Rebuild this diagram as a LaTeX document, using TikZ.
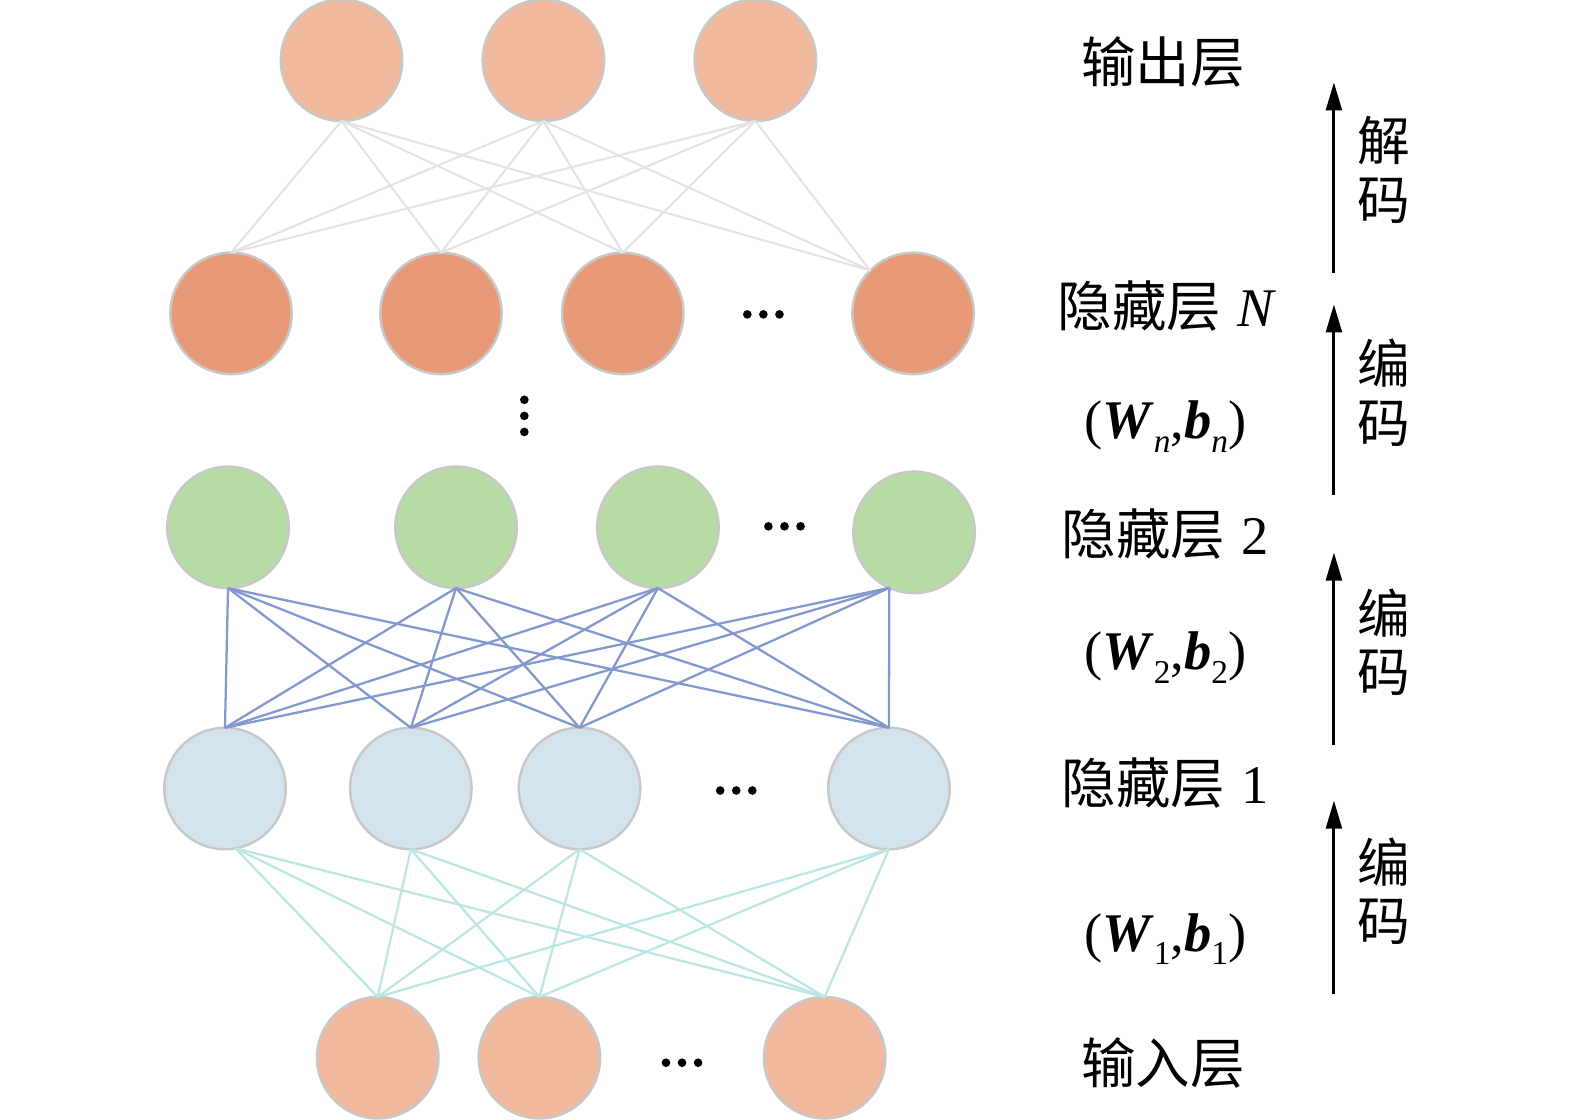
\documentclass[tikz,border=0pt]{standalone}
\usepackage{fontspec}
\setmainfont{Liberation Serif}
\newfontfamily\cjk{Noto Sans CJK SC}
\usetikzlibrary{arrows.meta}
\definecolor{ringc}{HTML}{C8C8C8}
\definecolor{peach}{HTML}{F0B89C}
\definecolor{salmon}{HTML}{E89A78}
\definecolor{leaf}{HTML}{B6DBA5}
\definecolor{sky}{HTML}{D3E4EF}
\definecolor{grayline}{HTML}{E3E3E3}
\definecolor{blueline}{HTML}{8298CF}
\definecolor{cyanline}{HTML}{BDE7E5}
\newcommand\lowsub[1]{\raisebox{-0.55ex}{\fontsize{19}{20}\selectfont #1}}
\begin{document}
\begin{tikzpicture}[x=0.02009cm,y=-0.02009cm,
  neuron/.style={circle,draw=ringc,line width=1.4pt,minimum size=2.43cm,inner sep=0pt,outer sep=0pt},
  lbl/.style={font=\fontsize{31}{36}\selectfont,inner sep=0pt},
  side/.style={font=\cjk\fontsize{30}{34}\selectfont,inner sep=0pt},
  flow/.style={line width=1.7pt,-{Triangle[length=16pt,width=9pt]}},
  dotmark/.style={fill=black}]
\useasboundingbox (0,0) rectangle (1568,1115);
% neurons
\foreach \n/\x in {o1/340,o2/541,o3/752} \node[neuron,fill=peach] (\n) at (\x,60) {};
\foreach \n/\x in {a1/230,a2/439,a3/620,a4/909} \node[neuron,fill=salmon] (\n) at (\x,312) {};
\foreach \n/\x/\y in {b1/227/525,b2/454/525,b3/655/525,b4/910/530} \node[neuron,fill=leaf] (\n) at (\x,\y) {};
\foreach \n/\x in {c1/224,c2/409,c3/577,c4/885} \node[neuron,fill=sky] (\n) at (\x,785) {};
\foreach \n/\x in {i1/376,i2/537,i3/821} \node[neuron,fill=peach] (\n) at (\x,1053) {};
% connections
\foreach \o in {o1,o2,o3}{
  \foreach \a in {a1,a2,a3} \draw[grayline,line width=1.2pt] (\o.south) -- (\a.north);
  \draw[grayline,line width=1.2pt] (\o.south) -- (a4.135);
}
\foreach \c in {c1,c2,c3,c4}{
  \foreach \b in {b1,b2,b3} \draw[blueline,line width=1.3pt] (\b.south) -- (\c.north);
  \draw[blueline,line width=1.3pt] (b4.-114) -- (\c.north);
}
\foreach \i in {i1,i2,i3}{
  \draw[cyanline,line width=1.3pt] (c1.-80) -- (\i.north);
  \foreach \c in {c2,c3,c4} \draw[cyanline,line width=1.3pt] (\c.south) -- (\i.north);
}
% ellipsis dots
\foreach \x/\y in {744/313,760/313,776/313, 765/524,781/524,797/524, 717/787,733/787,749/787, 663/1058,679/1058,695/1058, 522/398,522/414,522/430}
  \fill[dotmark] (\x,\y) circle (4.3);
% layer labels
\node[lbl] (tOut) at (1158,62) {\cjk 输出层};
\node[lbl] (tHN) at (1162,305) {\cjk 隐藏层\hspace{0.3em}\rmfamily\textit{N}};
\node[lbl] (tWn) at (1160,425) {(\textbf{\textit{W}}\lowsub{\textit{n}},\textbf{\textit{b}}\lowsub{\textit{n}})};
\node[lbl] (tH2) at (1160,532) {\cjk 隐藏层\hspace{0.3em}\rmfamily 2};
\node[lbl] (tW2) at (1160,655) {(\textbf{\textit{W}}\lowsub{2},\textbf{\textit{b}}\lowsub{2})};
\node[lbl] (tH1) at (1160,780) {\cjk 隐藏层\hspace{0.3em}\rmfamily 1};
\node[lbl] (tW1) at (1160,935) {(\textbf{\textit{W}}\lowsub{1},\textbf{\textit{b}}\lowsub{1})};
\node[lbl] (tIn) at (1158,1058) {\cjk 输入层};
% arrows
\coordinate (s1) at (1328,272); \coordinate (e1) at (1328,82);
\coordinate (s2) at (1328,493); \coordinate (e2) at (1328,303);
\coordinate (s3) at (1328,742); \coordinate (e3) at (1328,550);
\coordinate (s4) at (1328,990); \coordinate (e4) at (1328,797);
\draw[flow] (s1) -- (e1);
\draw[flow] (s2) -- (e2);
\draw[flow] (s3) -- (e3);
\draw[flow] (s4) -- (e4);
\node[side] (d1) at (1378,140) {解};
\node[side] (d2) at (1378,200) {码};
\node[side] (f1) at (1378,362) {编};
\node[side] (f2) at (1378,422) {码};
\node[side] (g1) at (1378,610) {编};
\node[side] (g2) at (1378,670) {码};
\node[side] (h1) at (1378,858) {编};
\node[side] (h2) at (1378,918) {码};
\end{tikzpicture}
\end{document}
